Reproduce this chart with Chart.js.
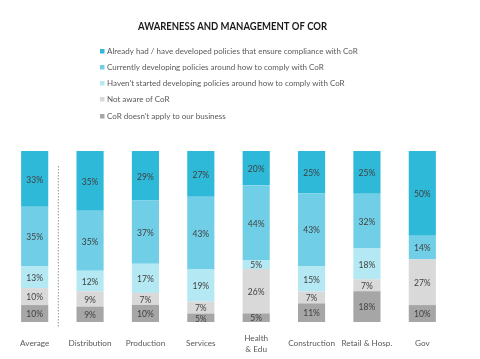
<!DOCTYPE html>
<html>
<head>
<meta charset="utf-8">
<script src="https://cdn.jsdelivr.net/npm/chart.js@4"></script>
<style>
  html, body { margin: 0; padding: 0; background: #fff; }
  canvas { display: block; }
</style>
</head>
<body>
<canvas id="chart" width="480" height="359"></canvas>
<script>
// categories and series, bottom segment first
const categories = ['Average', 'Distribution', 'Production', 'Services', ['Health', '& Edu'], 'Construction', 'Retail & Hosp.', 'Gov'];
const notApply      = [10, 9, 10, 5, 5, 11, 18, 10];
const notAware      = [10, 9, 7, 7, 26, 7, 7, 27];
const notStarted    = [13, 12, 17, 19, 5, 15, 18, 0];
const developing    = [35, 35, 37, 43, 44, 43, 32, 14];
const alreadyHad    = [33, 35, 29, 27, 20, 25, 25, 50];

const seriesNames = [
    "CoR doesn't apply to our business",
    'Not aware of CoR',
    "Haven't started developing policies around how to comply with CoR",
    'Currently developing policies around how to comply with CoR',
    'Already had / have developed policies that ensure compliance with CoR',
];
const seriesValues = [notApply, notAware, notStarted, developing, alreadyHad];
const seriesColors = ['#a6a6a6', '#d9d9d9', '#b4e8f3', '#70cfe6', '#2eb9d8'];

// every bar is drawn as 100% of its own total
const totals = categories.map((c, i) => seriesValues.reduce((s, arr) => s + arr[i], 0));

const datasets = seriesValues.map((vals, k) => ({
    label: seriesNames[k],
    data: vals.map((v, i) => v / totals[i] * 100),
    raw: vals,
    backgroundColor: seriesColors[k],
    borderWidth: 0,
    barPercentage: 0.49,
    categoryPercentage: 1,
}));

const FONT = 'Lato, "Open Sans", sans-serif';

// title, legend, value labels and the dotted separator
const decorations = {
    id: 'decorations',
    afterDatasetsDraw(chart) {
        const ctx = chart.ctx;
        const area = chart.chartArea;

        // value labels
        ctx.save();
        ctx.font = '8.5px ' + FONT;
        ctx.fillStyle = '#404040';
        ctx.textAlign = 'center';
        ctx.textBaseline = 'middle';
        chart.data.datasets.forEach((ds, k) => {
            chart.getDatasetMeta(k).data.forEach((bar, i) => {
                if (!ds.raw[i]) return;
                ctx.fillText(ds.raw[i] + '%', bar.x, (bar.y + bar.base) / 2 + 1);
            });
        });
        ctx.restore();

        // dotted line between Average and the sectors
        const xs = chart.scales.x;
        const sepX = (xs.getPixelForValue(0) + xs.getPixelForValue(1)) / 2 - 4;
        ctx.save();
        ctx.strokeStyle = '#9a9a9a';
        ctx.lineWidth = 1;
        ctx.setLineDash([1.5, 1.5]);
        ctx.beginPath();
        ctx.moveTo(sepX, area.top + 15);
        ctx.lineTo(sepX, area.bottom + 5);
        ctx.stroke();
        ctx.restore();
    },
    afterDraw(chart) {
        const ctx = chart.ctx;

        // title
        ctx.save();
        ctx.font = 'bold 11px ' + FONT;
        ctx.fillStyle = '#1a1a1a';
        ctx.textBaseline = 'middle';
        const title = 'AWARENESS AND MANAGEMENT OF COR';
        const w = ctx.measureText(title).width;
        ctx.translate(138, 26);
        ctx.scale(189 / w, 1);
        ctx.fillText(title, 0, 0);
        ctx.restore();

        // legend, top series first
        ctx.save();
        ctx.font = '8px ' + FONT;
        ctx.textBaseline = 'middle';
        const rowY = [51, 67, 83, 99, 116];
        for (let r = 0; r < seriesNames.length; r++) {
            const k = seriesNames.length - 1 - r;
            ctx.fillStyle = seriesColors[k];
            ctx.fillRect(100, rowY[r] - 2, 4.5, 4.5);
            ctx.fillStyle = '#595959';
            ctx.fillText(seriesNames[k], 107, rowY[r]);
        }
        ctx.restore();
    }
};

new Chart(document.getElementById('chart').getContext('2d'), {
    type: 'bar',
    data: { labels: categories, datasets: datasets },
    options: {
        responsive: false,
        animation: false,
        layout: { padding: { top: 151, left: 7, right: 30, bottom: 0 } },
        plugins: {
            legend: { display: false },
            title: { display: false },
            tooltip: { enabled: false },
        },
        scales: {
            x: {
                stacked: true,
                grid: { display: false },
                border: { display: false },
                afterFit: (scale) => { scale.height = 37; },
                ticks: {
                    color: '#595959',
                    font: { family: FONT, size: 8.2, lineHeight: 1.4 },
                    padding: 8,
                    crossAlign: 'center',
                    maxRotation: 0,
                    autoSkip: false,
                },
            },
            y: {
                stacked: true,
                display: false,
                min: 0,
                max: 100,
            },
        },
    },
    plugins: [decorations],
});
</script>
</body>
</html>
